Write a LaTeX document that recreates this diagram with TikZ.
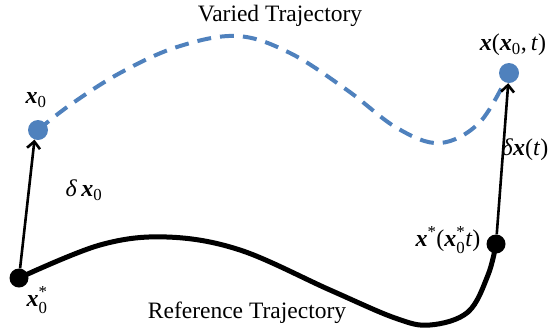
\documentclass[tikz,border=0pt]{standalone}
\usepackage{amsmath}
\usepackage{fontspec}
\setmainfont{Liberation Serif}
\usetikzlibrary{arrows.meta}
\definecolor{dotblue}{HTML}{4F81BD}
\newcommand{\vx}{\textbf{\textit{x}}}
\newcommand{\dl}{\textit{δ}}
\begin{document}
\begin{tikzpicture}[x=1pt,y=-1pt,
  bluedot/.style={circle,fill=dotblue,inner sep=0pt,minimum size=20pt},
  blackdot/.style={circle,fill=black,inner sep=0pt,minimum size=19pt},
  arr/.style={line width=2.6pt,-{Straight Barb[length=7pt,width=13pt,line width=2.6pt]}},
  reftraj/.style={line width=5pt},
  vartraj/.style={line width=4pt,dotblue,dash pattern=on 14pt off 9pt},
  mlabel/.style={font=\fontsize{24}{28}\selectfont,inner sep=0pt},
  tlabel/.style={font=\fontsize{23.5}{28}\selectfont,inner sep=0pt}]
\useasboundingbox (0,0) rectangle (556,333);
% trajectories
\draw[reftraj,line join=round] plot[smooth,tension=0.6] coordinates {(19,278) (100,245) (167,237) (240,250) (330,290) (395,318) (430,325) (468,312) (488,275) (496,244)};
\draw[vartraj] plot[smooth,tension=0.6] coordinates {(38,130) (70,105) (120,73) (177,47) (237,36) (290,53) (347,90) (397,128) (440,143) (480,122) (509,73)};
% dots
\node[blackdot] (s0) at (19,278) {};
\node[blackdot] (s1) at (496,244) {};
\node[bluedot] (v0) at (38,130) {};
\node[bluedot] (v1) at (509,73) {};
% arrows
\draw[arr] (s0) -- (v0.250);
\draw[arr] (s1) -- (v1);
% labels
\node[mlabel] (lv0) at (36,100) {$\text{\vx}_{\text{0}}$};
\node[mlabel] (ld0) at (84,190) {$\text{\dl}\,\text{\vx}_{\text{0}}$};
\node[mlabel] (ls0) at (37,300) {$\text{\vx}^{\text{*}}_{\text{0}}$};
\node[mlabel] (lv1) at (513,45) {$\text{\vx}\text{(}\text{\vx}_{\text{0}}\text{,}\,\text{\textit{t}}\text{)}$};
\node[mlabel] (ld1) at (525,150) {$\text{\dl}\text{\vx}\text{(}\text{\textit{t}}\text{)}$};
\node[mlabel] (ls1) at (448,240) {$\text{\vx}^{\text{*}}\text{(}\text{\vx}^{\text{*}}_{\text{0}}\text{\textit{t}}\text{)}$};
\node[tlabel] (tv) at (280,16) {Varied Trajectory};
\node[tlabel] (tr) at (247,313) {Reference Trajectory};
\end{tikzpicture}
\end{document}
